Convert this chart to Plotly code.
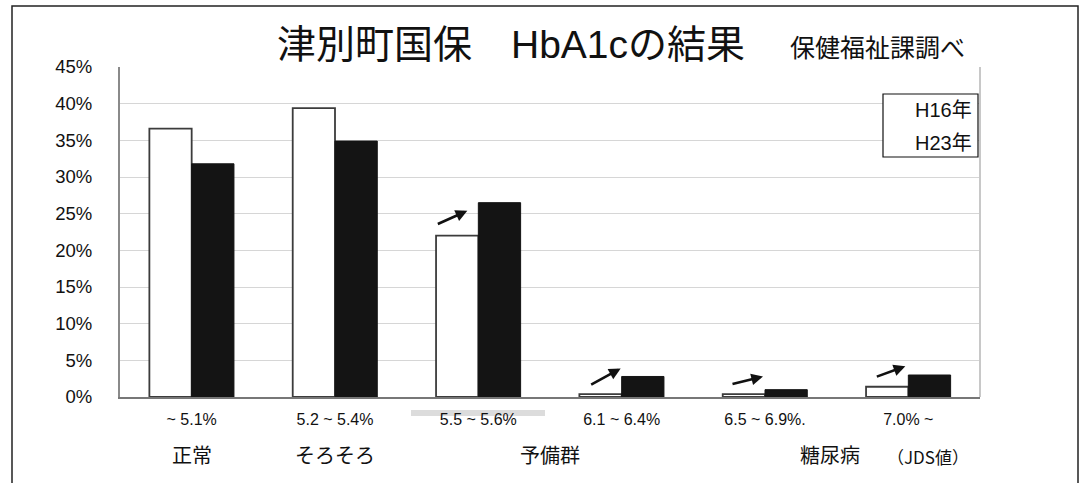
import plotly.graph_objects as go

# ---- data ----
categories = ["~ 5.1%", "5.2 ~ 5.4%", "5.5 ~ 5.6%", "6.1 ~ 6.4%", "6.5 ~ 6.9%.", "7.0% ~"]
h16 = [36.6, 39.4, 22.0, 0.4, 0.4, 1.4]
h23 = [31.8, 34.9, 26.5, 2.8, 1.0, 3.0]
series_names = ["H16年", "H23年"]
group_labels = ["正常", "そろそろ", "予備群", "糖尿病"]
unit_note = "（JDS値）"
title_text = "津別町国保　HbA1cの結果"
source_text = "保健福祉課調べ"
y_ticks = [0, 5, 10, 15, 20, 25, 30, 35, 40, 45]
y_tick_labels = [f"{v}%" for v in y_ticks]

W, H = 1081, 483
L, R, T, B = 120, 101, 67, 86
PW, PH = W - L - R, H - T - B

def px(x):  # pixel x -> paper
    return (x - L) / PW

def py(y):  # pixel y -> paper
    return (H - B - y) / PH

JP = "Noto Sans CJK JP, Noto Sans, sans-serif"
LAT = "Arial, Liberation Sans, Noto Sans CJK JP, sans-serif"

fig = go.Figure()
fig.add_trace(go.Bar(x=categories, y=h16, name=series_names[0],
                     marker=dict(color="white", line=dict(color="#3c3c3c", width=1.8))))
fig.add_trace(go.Bar(x=categories, y=h23, name=series_names[1],
                     marker=dict(color="#141414", line=dict(color="#141414", width=1))))

fig.update_layout(
    width=W, height=H, autosize=False,
    margin=dict(l=L, r=R, t=T, b=B, pad=0),
    paper_bgcolor="white", plot_bgcolor="white",
    barmode="group", bargap=0.41, bargroupgap=0,
    showlegend=False,
    font=dict(family=LAT, color="#111"),
    title=dict(text=title_text, x=511 / W, y=1 - 44 / H, xref="container", yref="container",
               xanchor="center", yanchor="middle",
               font=dict(family=LAT, size=39, color="#111")),
)
fig.update_xaxes(type="category", showgrid=False, showline=True, linecolor="#777", linewidth=2,
                 ticks="", tickfont=dict(family=LAT, size=16, color="#111"),
                 ticklabelstandoff=7)
fig.update_yaxes(range=[0, 45], tickvals=y_ticks, ticktext=y_tick_labels, showgrid=True,
                 gridcolor="#d6d6d6", gridwidth=1, zeroline=False,
                 showline=True, linecolor="#8a8a8a", linewidth=2, ticks="",
                 tickfont=dict(family=LAT, size=18.5, color="#111"), ticklabelstandoff=22)

shapes = []
# right edge of plot frame (light)
shapes.append(dict(type="line", xref="paper", yref="paper", x0=1, x1=1, y0=0, y1=1,
                   line=dict(color="#c8c8c8", width=2)))
# outer frame
shapes.append(dict(type="rect", xref="paper", yref="paper",
                   x0=px(12), x1=px(1078), y0=py(495), y1=py(6),
                   line=dict(color="#222", width=1.5)))
# legend box
shapes.append(dict(type="rect", xref="paper", yref="paper",
                   x0=px(883), x1=px(978), y0=py(157), y1=py(94),
                   line=dict(color="#111", width=1.2), fillcolor="white", layer="above"))
# faint scan streak under 3rd label
shapes.append(dict(type="rect", xref="paper", yref="paper",
                   x0=px(411), x1=px(545), y0=py(416), y1=py(410),
                   line=dict(width=0), fillcolor="#dcdcdc", layer="below"))
fig.update_layout(shapes=shapes)

ann = []
ann.append(dict(text=source_text, xref="paper", yref="paper", x=px(877), y=py(46),
                xanchor="center", yanchor="middle", showarrow=False,
                font=dict(family=JP, size=25, color="#111")))
for name, yy in zip(series_names, [110, 143]):
    ann.append(dict(text=name, xref="paper", yref="paper", x=px(974), y=py(yy),
                    xanchor="right", yanchor="middle", showarrow=False,
                    font=dict(family=LAT, size=20, color="#111")))
# group labels under axis
for lab, xi in zip(group_labels, [0, 1, 2.5, 4.45]):
    ann.append(dict(text=lab, xref="x", yref="paper", x=xi, y=py(454),
                    xanchor="center", yanchor="middle", showarrow=False,
                    font=dict(family=JP, size=20, color="#111")))
ann.append(dict(text=unit_note, xref="paper", yref="paper", x=px(928), y=py(456),
                xanchor="center", yanchor="middle", showarrow=False,
                font=dict(family=JP, size=17, color="#111")))
# increase arrows (head position: category index, value; tail offset in px)
arrows = [(2, 25.4, -31, 14, -11), (3, 3.9, -31, 17, -1), (4, 2.8, -32, 8, -2), (5, 4.2, -30, 11, -3)]
for ci, yv, axp, ayp, xs in arrows:
    ann.append(dict(text="", x=categories[ci], y=yv, xref="x", yref="y", xshift=xs,
                    ax=axp, ay=ayp, showarrow=True, arrowhead=2, arrowsize=0.9,
                    arrowwidth=2.6, arrowcolor="#111"))
fig.update_layout(annotations=ann)

fig.write_html("out.html", config={"displayModeBar": False},
               post_script="document.body.style.margin='0';")
